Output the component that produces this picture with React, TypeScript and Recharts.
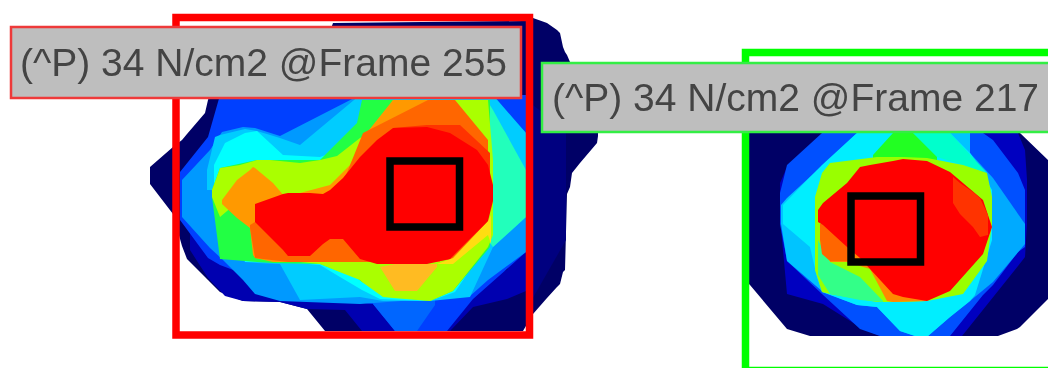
import { ComposedChart, Area, XAxis, YAxis, ReferenceArea, Label } from "recharts";

type Row = [number, number, number]; // x, upper edge, lower edge (image rows, grows downward)

// left footprint, frame 255
const navyA: Row[] = [[150,167,184],[173,147,214],[182,140,246],[187,134,259],[205,113,277],[208,100,280],[220,60,292],[243,60,301],[280,60,302],[307,60,309],[325,45,331],[333,23,331],[523,21,331],[533,18,314],[547,23,298],[557,30,287],[560,33,284],[563,47,272],[565,52,270],[567,55,194],[570,62,187],[572,70,173],[580,90,163],[597,130,143],[598,133,136]];
const midNavyA: Row[] = [[526,100,310],[566,130,240]];
const darkBlueA: Row[] = [[190,225,250],[208,240,278],[225,250,296],[243,265,301],[280,280,302],[307,290,309],[345,295,310],[362,300,331],[395,300,331],[450,300,331],[473,280,307],[507,270,299],[526,240,291]];
const blueA: Row[] = [[180,172,220],[208,137,258],[220,95,265],[300,95,295],[373,95,304],[395,95,331],[447,95,331],[473,95,299],[526,95,252]];
const skyBottomA: Row[] = [[373,295,304],[395,295,331],[417,295,331],[435,295,305]];
const skyA: Row[] = [[182,180,217],[210,150,248],[222,132,259],[243,127,280],[255,128,294],[280,136,301],[360,95,304],[470,95,296],[488,95,280],[526,133,252]];
const azureA: Row[] = [[207,170,190],[215,137,190],[220,135,190],[245,129,262],[257,131,263],[280,138,264],[300,145,300],[360,95,297],[383,95,301],[430,95,301],[470,95,297],[493,95,247],[526,133,217]];
const cyanA: Row[] = [[214,165,190],[225,143,190],[245,133,262],[257,131,262],[283,155,262],[320,157,265],[340,150,277],[362,133,290],[380,120,299],[430,120,301],[455,120,292],[470,180,270]];
const tealA: Row[] = [[488,102,240],[493,110,247],[526,170,217]];
const greenA: Row[] = [[212,190,197],[220,168,259],[257,160,262],[273,160,263],[320,160,264],[357,123,278],[362,100,282],[393,100,297],[430,100,301],[453,100,291],[490,100,247]];
const limeA: Row[] = [[212,190,197],[220,168,217],[240,165,200],[257,160,195],[270,160,230],[300,163,262],[320,160,264],[337,156,271],[360,138,280],[362,137,282],[383,118,297],[393,100,298],[430,120,301],[453,100,291],[488,100,247],[493,160,235]];
const orangeA: Row[] = [[222,200,204],[237,180,218],[250,170,228],[253,167,255],[255,168,258],[273,183,262],[285,197,262],[330,185,262],[350,165,262],[365,135,262],[393,100,262],[428,100,262],[440,100,262]];
const darkOrangeA: Row[] = [[250,225,228],[255,222,258],[288,205,262],[340,190,262],[363,133,262],[428,100,262],[455,100,259],[488,140,221]];
const redOrangeA: Row[] = [[393,128,200],[427,125,200],[460,125,200],[490,153,200]];
const goldA: Row[] = [[380,267,267],[395,264,291],[417,264,291],[437,264,267]];
const yellowA: Row[] = [[437,264,264],[453,258,264],[488,221,235],[491,215,244]];
const redA: Row[] = [[255,204,222],[283,194,250],[288,193,256],[310,193,256],[323,194,244],[330,190,239],[343,178,239],[360,157,259],[377,140,264],[393,128,264],[427,127,264],[450,133,259],[477,150,232],[488,165,221],[493,185,201]];

// right footprint, frame 217
const navyB: Row[] = [[749,133,284],[750,133,285],[787,133,329],[810,133,336],[998,133,336],[1017,133,329],[1020,133,327],[1048,160,299]];
const darkBlueB: Row[] = [[780,183,217],[787,167,294],[823,133,304],[863,133,329],[880,133,336],[962,133,336],[1018,133,266],[1025,150,257],[1027,180,224]];
const blueB: Row[] = [[780,193,224],[787,165,261],[822,133,294],[860,133,329],[880,133,336],[950,133,336],[983,133,295],[993,140,285],[1018,173,252],[1025,190,247]];
const skyB: Row[] = [[781,205,224],[787,198,261],[823,165,292],[857,133,305],[877,133,307],[900,133,331],[915,133,336],[928,133,336],[950,133,317],[970,133,301]];
const skyRightB: Row[] = [[970,153,301],[993,178,282],[1025,224,244]];
const cyanB: Row[] = [[783,205,224],[810,177,247],[817,170,277],[822,165,292],[857,133,305],[877,133,307],[900,133,331],[915,133,336],[928,133,336],[950,133,317],[970,153,301],[975,160,295],[992,190,240]];
const tealB: Row[] = [[913,133,133],[937,133,157],[950,133,161],[987,173,173]];
const greenPeakB: Row[] = [[873,155,170],[893,133,170],[913,133,170],[937,157,170]];
const limeB: Row[] = [[815,197,270],[822,173,292],[830,163,294],[877,157,302],[903,157,302],[927,158,301],[963,165,294],[987,173,261],[992,197,224]];
const greenLowB: Row[] = [[818,240,275],[830,262,294],[860,277,300],[883,301,302]];
const orangeB: Row[] = [[830,240,262],[847,240,262],[870,240,269],[887,240,301],[893,240,302],[927,240,301]];
const darkOrangeB: Row[] = [[820,224,240],[822,224,254],[830,228,261],[847,247,261]];
const redB: Row[] = [[818,210,222],[823,203,225],[847,183,247],[860,167,258],[870,165,269],[893,161,294],[903,159,297],[927,161,301],[950,172,291],[983,200,254],[992,227,227]];
const redOrangeB: Row[] = [[953,177,203],[960,183,214],[973,192,227],[980,198,237],[988,215,235]];

const layers: Row[][] = [
  navyA, midNavyA, darkBlueA, blueA, skyBottomA, skyA, azureA, cyanA, tealA, greenA, limeA,
  orangeA, darkOrangeA, goldA, yellowA, redOrangeA, redA,
  navyB, darkBlueB, blueB, skyB, skyRightB, cyanB, tealB, greenPeakB, limeB, greenLowB, orangeB, darkOrangeB, redB, redOrangeB,
];
const layerColors = [
  "#000066", "#000080", "#0000b0", "#0040ff", "#0066ff", "#0099ff", "#00ccff", "#00ffff", "#22ffbb", "#22ff44", "#aaff00",
  "#ff9900", "#ff6600", "#ffbb22", "#ffdd11", "#ff3300", "#ff0000",
  "#000066", "#0000c0", "#0050ff", "#00c4ff", "#00aaff", "#00eeff", "#00ffcc", "#22ff22", "#99ff00", "#33ff88", "#ff8800", "#ff6600", "#ff0000", "#ff3300",
];

const captions = ["(^P) 34 N/cm2 @Frame 255", "(^P) 34 N/cm2 @Frame 217"];

export default function App() {
  return (
    <div style={{ position: "absolute", left: 0, top: 0, width: 1048, height: 368, overflow: "hidden", filter: "blur(0.5px)" }}>
      <ComposedChart width={1048} height={368} margin={{ top: 0, right: 0, bottom: 0, left: 0 }}>
        <XAxis type="number" dataKey="x" domain={[0, 1048]} hide allowDataOverflow />
        <YAxis type="number" domain={[0, 368]} reversed hide allowDataOverflow />
        {layers.map((rows, i) => (
          <Area
            key={i}
            data={rows.map(([x, top, bottom]) => ({ x, range: [bottom, top] }))}
            dataKey="range"
            type="linear"
            stroke="none"
            fill={layerColors[i]}
            fillOpacity={1}
            dot={false}
            activeDot={false}
            isAnimationActive={false}
          />
        ))}
        <ReferenceArea x1={176} x2={529.5} y1={17.5} y2={335} fill="none" stroke="#ff0000" strokeWidth={7.5} ifOverflow="visible" />
        <ReferenceArea x1={390} x2={459.5} y1={161} y2={227} fill="none" stroke="#000000" strokeWidth={7.5} ifOverflow="visible" />
        <ReferenceArea x1={745.5} x2={1060} y1={52.5} y2={370.5} fill="none" stroke="#00ff00" strokeWidth={7.5} ifOverflow="visible" />
        <ReferenceArea x1={851} x2={920.5} y1={196} y2={262} fill="none" stroke="#000000" strokeWidth={7.5} ifOverflow="visible" />
        <ReferenceArea x1={11} x2={521} y1={27} y2={98} fill="#bebebe" fillOpacity={1} stroke="#ee3a3a" strokeWidth={2.5} ifOverflow="visible">
          <Label value={captions[0]} position="insideLeft" offset={9} fill="#444444" fontSize={39} fontFamily="Liberation Sans" />
        </ReferenceArea>
        <ReferenceArea x1={542} x2={1060} y1={63} y2={132} fill="#bebebe" fillOpacity={1} stroke="#33ee44" strokeWidth={2.5} ifOverflow="visible">
          <Label value={captions[1]} position="insideLeft" offset={10} fill="#444444" fontSize={39} fontFamily="Liberation Sans" />
        </ReferenceArea>
      </ComposedChart>
    </div>
  );
}
